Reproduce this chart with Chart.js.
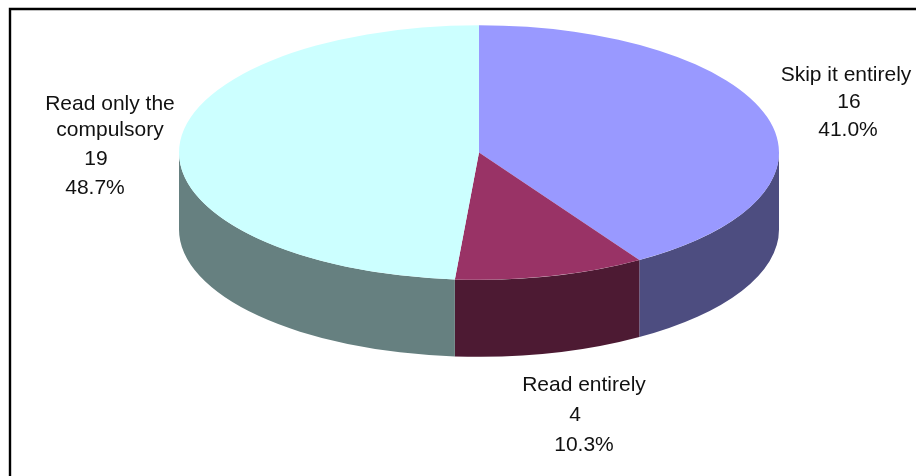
<!DOCTYPE html>
<html>
<head>
<meta charset="utf-8">
<style>
  html, body { margin: 0; padding: 0; background: #fff; overflow: hidden; }
  #wrap { width: 916px; height: 476px; position: relative; }
</style>
<script src="https://cdn.jsdelivr.net/npm/chart.js@4/dist/chart.umd.min.js"></script>
</head>
<body>
<div id="wrap"><canvas id="pie" width="916" height="476"></canvas></div>
<script>
// Survey answers, in clockwise order from twelve o'clock
const categories = ['Skip it entirely', 'Read entirely', 'Read only the compulsory'];
const answers = [16, 4, 19];
const topColours = ['#9999FF', '#993366', '#CCFFFF'];
const wallColours = ['#4D4D80', '#4D1A33', '#668080'];

// Text lines of each slice label, wrapped by hand
const labelNames = [['Skip it entirely'], ['Read entirely'], ['Read only the', 'compulsory']];

// Tilted-disc drawing parameters
const SQUASH = 127.3 / 300;
const DEPTH = 77;
const RADIUS = 300;

// Where each label line sits: [centre x, middle y]
const labelLayout = [
  [[846, 75], [849, 102], [848, 130]],
  [[584, 385], [575, 415], [584, 445]],
  [[110, 104], [110, 130], [96, 159], [95, 188]]
];

const total = answers.reduce((a, b) => a + b, 0);

function labelLines(i) {
  return [...labelNames[i], String(answers[i]), (answers[i] / total * 100).toFixed(1) + '%'];
}

// Walls of the disc: only the part of each slice facing the viewer gets one
const tiltedDisc = {
  id: 'tiltedDisc',
  beforeDatasetDraw(chart) {
    const ctx = chart.ctx;
    const arcs = chart.getDatasetMeta(0).data;
    const { x: cx, y: cy } = arcs[0];
    ctx.save();

    // Frame along the top and left edges
    ctx.strokeStyle = '#000';
    ctx.lineWidth = 2.4;
    ctx.beginPath();
    ctx.moveTo(10, 480);
    ctx.lineTo(10, 9);
    ctx.lineTo(920, 9);
    ctx.stroke();

    const ry = RADIUS * SQUASH;
    arcs.forEach((arc, i) => {
      const from = Math.max(arc.startAngle, 0);
      const to = Math.min(arc.endAngle, Math.PI);
      if (to <= from) return;
      ctx.fillStyle = wallColours[i];
      ctx.beginPath();
      ctx.ellipse(cx, cy, RADIUS, ry, 0, from, to);
      ctx.ellipse(cx, cy + DEPTH, RADIUS, ry, 0, to, from, true);
      ctx.closePath();
      ctx.fill();
    });
    ctx.restore();

    // Flatten the top face about the disc centre
    ctx.save();
    ctx.translate(cx, cy);
    ctx.scale(1, SQUASH);
    ctx.translate(-cx, -cy);
  },
  afterDatasetDraw(chart) {
    chart.ctx.restore();
  },
  afterDraw(chart) {
    const ctx = chart.ctx;
    ctx.save();
    ctx.fillStyle = '#111';
    ctx.font = '21px "Liberation Sans", Arial, sans-serif';
    ctx.textAlign = 'center';
    ctx.textBaseline = 'middle';
    labelLayout.forEach((spots, i) => {
      labelLines(i).forEach((line, j) => ctx.fillText(line, spots[j][0], spots[j][1]));
    });
    ctx.restore();
  }
};

new Chart(document.getElementById('pie'), {
  type: 'pie',
  data: {
    labels: categories,
    datasets: [{
      data: answers,
      backgroundColor: topColours,
      borderWidth: 0,
      clip: false,
      radius: RADIUS
    }]
  },
  options: {
    responsive: false,
    animation: false,
    layout: { padding: { left: 42, bottom: 171 } },
    plugins: { legend: { display: false }, tooltip: { enabled: false } }
  },
  plugins: [tiltedDisc]
});
</script>
</body>
</html>
